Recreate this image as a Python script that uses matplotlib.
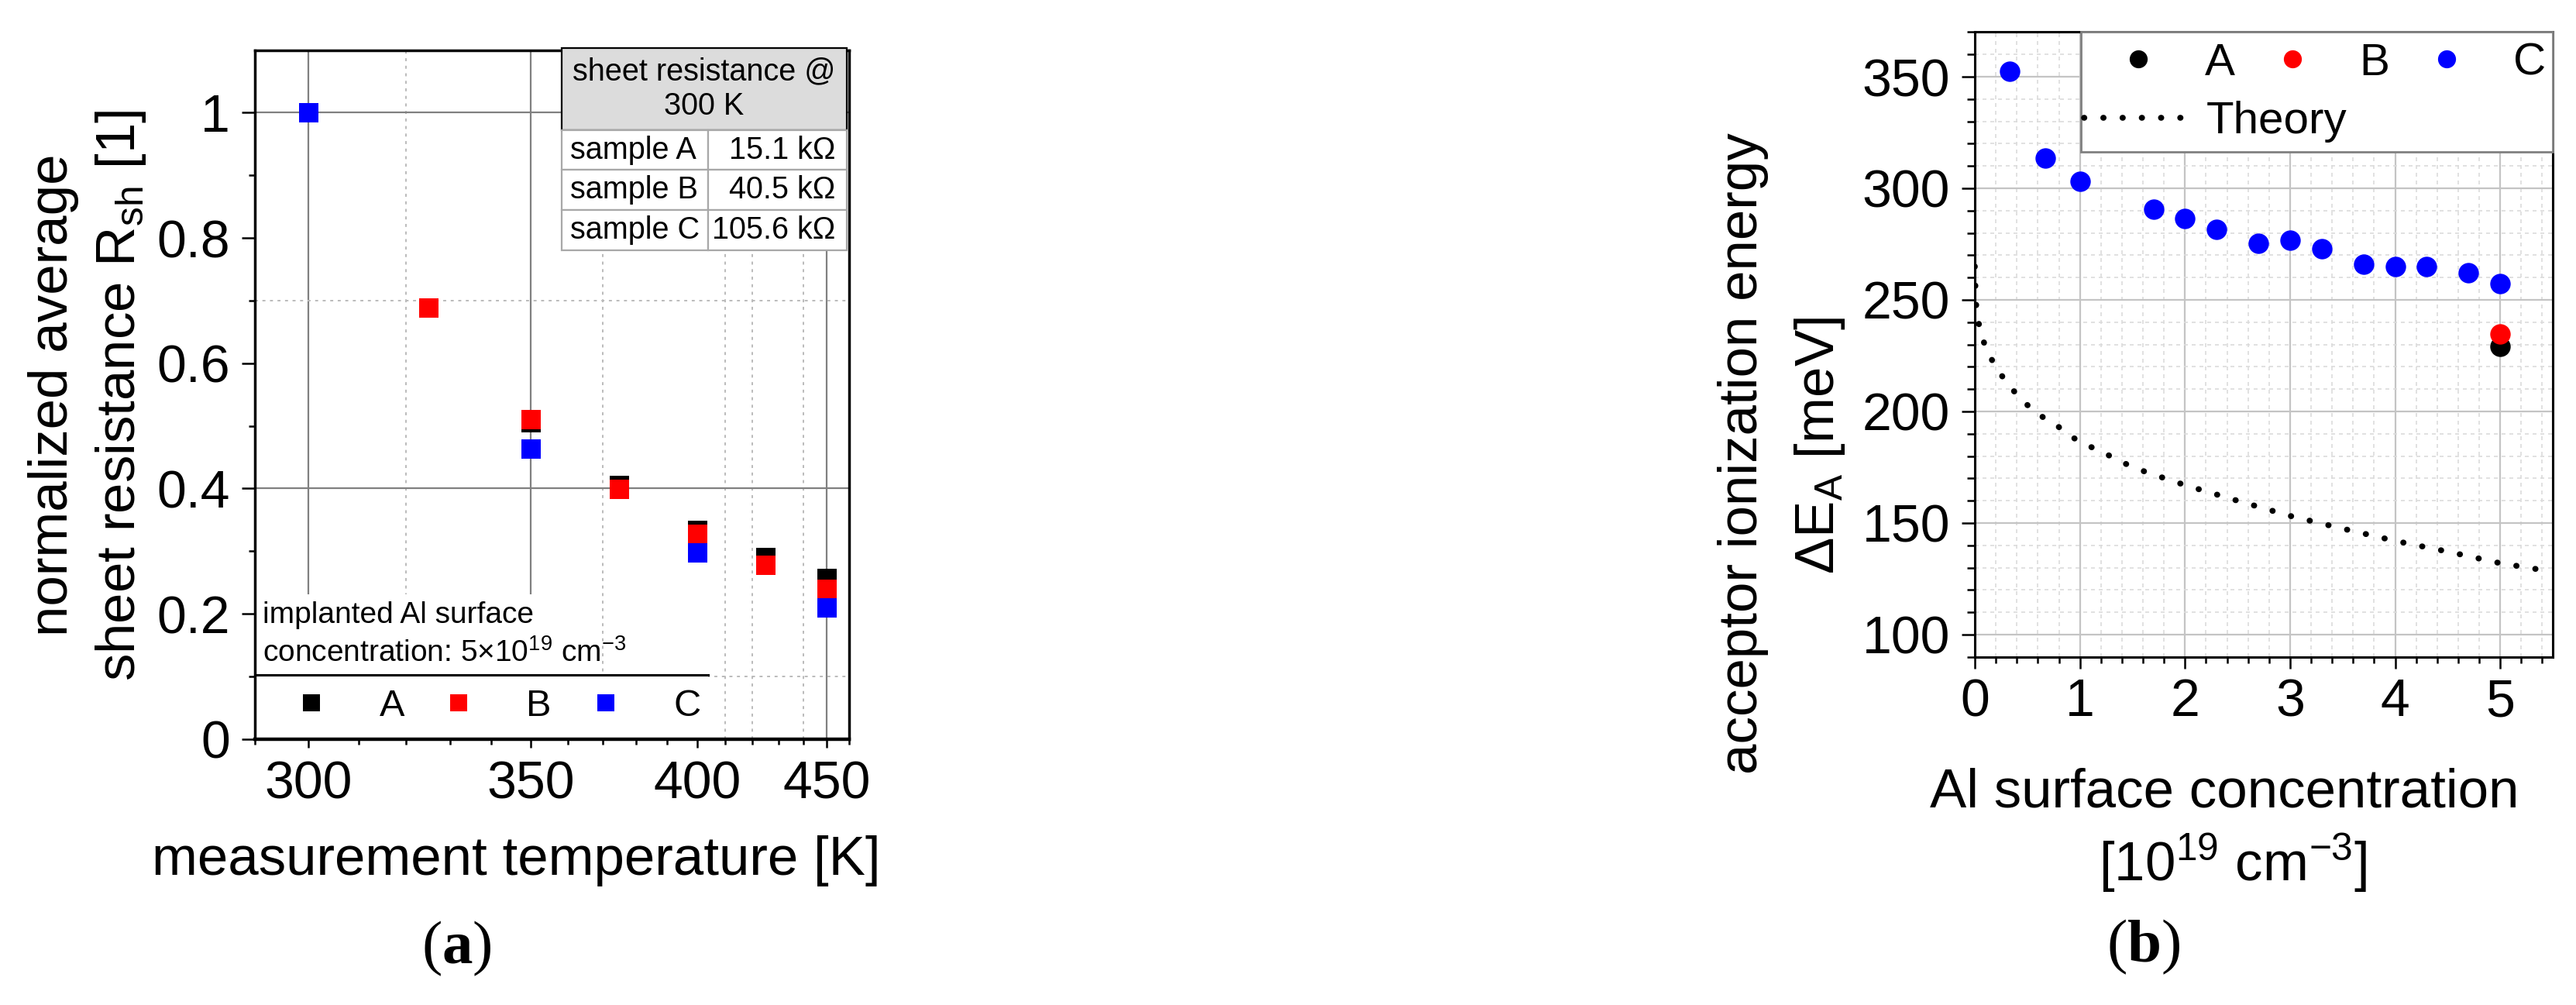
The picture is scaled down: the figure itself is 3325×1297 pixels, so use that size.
import numpy as np
import matplotlib
matplotlib.use("Agg")
import matplotlib.pyplot as plt
from matplotlib.patches import Rectangle
from matplotlib.lines import Line2D
from matplotlib.ticker import FixedLocator, NullFormatter

plt.rcParams['font.family'] = ['Liberation Sans', 'DejaVu Sans']
plt.rcParams['mathtext.fontset'] = 'custom'
plt.rcParams['mathtext.rm'] = 'Liberation Sans'
plt.rcParams['mathtext.it'] = 'Liberation Sans:italic'
plt.rcParams['mathtext.bf'] = 'Liberation Serif:bold'

# ---- (a) sheet resistance vs temperature ----
temps = [300, 325, 350, 375, 400, 425, 450]
rsh_A = [1.0, np.nan, 0.505, 0.405, 0.334, 0.290, 0.257]
rsh_B = [1.0, 0.689, 0.510, 0.399, 0.328, 0.278, 0.240]
rsh_C = [1.0, np.nan, 0.463, np.nan, 0.298, np.nan, 0.210]
temp_ticks = [300, 350, 400, 450]
temp_minor = [290, 310, 320, 330, 340, 360, 370, 380, 390, 410, 420, 430, 440, 460]
rsh_ticks = [0, 0.2, 0.4, 0.6, 0.8, 1.0]
rsh_ticklabels = ['0', '0.2', '0.4', '0.6', '0.8', '1']
table_samples = ['sample A', 'sample B', 'sample C']
table_values = ['15.1 kΩ', '40.5 kΩ', '105.6 kΩ']

# ---- (b) ionization energy vs Al concentration ----
conc_C = [0.33, 0.67, 1.0, 1.7, 2.0, 2.3, 2.7, 3.0, 3.3, 3.7, 4.0, 4.3, 4.7, 5.0]
ea_C = [352.5, 313.5, 303, 290.6, 286.3, 281.7, 275.3, 276.9, 272.8, 266, 264.8, 264.8, 262, 257.2]
conc_AB = [5.0]
ea_A = [229.3]
ea_B = [234.7]
theory_conc = [0.0, 0.01, 0.03, 0.06, 0.1, 0.18, 0.3, 0.43, 0.55, 0.68, 0.8, 0.93,
               1.05, 1.22, 1.37, 1.62, 2.0, 2.5, 3.0, 3.5, 4.0, 4.5, 5.0, 5.5]
theory_ea = [265, 249, 241, 235, 229, 221.5, 213, 206, 200.7, 196.4, 193, 188.4,
             185.2, 181.8, 177.8, 173, 167, 160, 153.2, 147.5, 142, 137.2, 132, 128.2]

W, H = 3325, 1297


def fx(px):
    return px / W


def fy(py):
    return 1 - py / H


def recip(t):
    t = np.asarray(t, dtype=float)
    with np.errstate(divide='ignore', invalid='ignore'):
        return -1.0 / t


fig = plt.figure(figsize=(W / 100, H / 100), dpi=100)

# ================= panel (a) =================
ax = fig.add_axes([fx(329), fy(953.7), (1096 - 329) / W, (953.7 - 64.5) / H])
ax.set_xscale('function', functions=(recip, recip))
ax.set_xlim(290, 460)
ax.set_ylim(0, 1.1)

# origin-like grid
for t in [300, 350, 450]:
    ax.axvline(t, color='#808080', lw=1.6, zorder=1)
for t in [320, 370, 410, 420, 440]:
    ax.axvline(t, color='#bbbbbb', lw=1.4, ls=(0, (2, 3)), zorder=1)
for v in [0.4, 1.0]:
    ax.axhline(v, color='#808080', lw=1.6, zorder=1)
for v in [0.1, 0.7]:
    ax.axhline(v, color='#bbbbbb', lw=1.4, ls=(0, (2, 3)), zorder=1)

pA, = ax.plot(temps, rsh_A, 's', color='black', ms=18, mew=0, zorder=3)
pB, = ax.plot(temps, rsh_B, 's', color='red', ms=18, mew=0, zorder=3)
pC, = ax.plot(temps, rsh_C, 's', color='blue', ms=18, mew=0, zorder=3)

ax.xaxis.set_major_locator(FixedLocator(temp_ticks))
ax.xaxis.set_minor_locator(FixedLocator(temp_minor))
ax.xaxis.set_minor_formatter(NullFormatter())
ax.set_xticklabels([str(t) for t in temp_ticks])
ax.set_yticks(rsh_ticks)
ax.set_yticklabels(rsh_ticklabels)
ax.yaxis.set_minor_locator(FixedLocator([0.1, 0.3, 0.5, 0.7, 0.9]))
ax.tick_params(axis='both', which='both', direction='out', labelsize=49, width=1.8)
ax.tick_params(axis='y', which='major', length=12, pad=11)
ax.tick_params(axis='y', which='minor', length=6)
ax.tick_params(axis='x', which='major', length=8, pad=11)
ax.tick_params(axis='x', which='minor', length=5)
for s in ax.spines.values():
    s.set_linewidth(2.5)
ax.spines['bottom'].set_linewidth(3.2)

# white boxes for the note and the legend
ax.add_patch(Rectangle((0, 0), 0.763, 0.093, transform=ax.transAxes,
                       facecolor='white', edgecolor='none', zorder=2.5))
ax.add_patch(Rectangle((0, 0.093), 0.575, 0.117, transform=ax.transAxes,
                       facecolor='white', edgecolor='none', zorder=2.5))
ax.add_line(Line2D([0, 0.763], [0.093, 0.093], transform=ax.transAxes,
                   color='black', lw=2.2, zorder=4))
ax.text(0.013, 0.1684, 'implanted Al surface', transform=ax.transAxes,
        fontsize=28, va='baseline', ha='left', zorder=4)
ax.text(0.013, 0.1126, 'concentration: 5×10$^{19}$ cm$^{-3}$', transform=ax.transAxes,
        fontsize=28, va='baseline', ha='left', zorder=4)

ax.legend([pA, pB, pC], ['A', 'B', 'C'], ncol=3, loc='center left',
          bbox_to_anchor=(0.0318, 0.0469), frameon=False, fontsize=35,
          handlelength=2, handletextpad=0.8, columnspacing=0.44,
          borderpad=0, borderaxespad=0, markerscale=0.9, numpoints=1)

# table with sheet resistance at 300 K
tx0 = (724.5 - 329) / 767
tw = (1092.7 - 724.5) / 767
c0w = (914.3 - 724.5) / 767
head = ax.table(cellText=[['sheet resistance @\n300 K']], cellLoc='center',
                bbox=[tx0, (953.7 - 167.7) / 889.2, tw, (167.7 - 61.7) / 889.2])
body0 = ax.table(cellText=[[s] for s in table_samples], cellLoc='left',
                 bbox=[tx0, (953.7 - 322.7) / 889.2, c0w, (322.7 - 167.7) / 889.2])
body1 = ax.table(cellText=[[v] for v in table_values], cellLoc='right',
                 bbox=[tx0 + c0w, (953.7 - 322.7) / 889.2, tw - c0w, (322.7 - 167.7) / 889.2])
for tb, pad in [(head, 0.1), (body0, 0.06), (body1, 0.08)]:
    tb.auto_set_font_size(False)
    tb.set_fontsize(28.5)
    tb.set_zorder(6)
    for cell in tb.get_celld().values():
        cell.PAD = pad
        cell.set_linewidth(1.6)
        cell.set_edgecolor('#a8a8a8')
for cell in head.get_celld().values():
    cell.set_facecolor('#dcdcdc')
    cell.set_edgecolor('black')

# ================= panel (b) =================
axb = fig.add_axes([fx(2549), fy(847.8), (3295 - 2549) / W, (847.8 - 41.4) / H])
axb.set_xlim(0, 5.5)
axb.set_ylim(90, 370)
axb.set_axisbelow(True)
axb.set_xticks([0, 1, 2, 3, 4, 5])
axb.xaxis.set_minor_locator(FixedLocator(np.arange(0, 5.51, 0.2)))
axb.set_yticks([100, 150, 200, 250, 300, 350])
axb.yaxis.set_minor_locator(FixedLocator(np.arange(90, 371, 10)))
axb.grid(which='major', color='#c4c4c4', lw=1.6)
axb.grid(which='minor', color='#dcdcdc', lw=1.2, ls=(0, (3, 3)))
axb.tick_params(axis='both', which='both', direction='out', labelsize=49, width=1.8)
axb.tick_params(axis='y', which='major', length=12, pad=11)
axb.tick_params(axis='y', which='minor', length=7)
axb.tick_params(axis='x', which='major', length=11, pad=8)
axb.tick_params(axis='x', which='minor', length=6)
for s in axb.spines.values():
    s.set_linewidth(2.2)

hT, = axb.plot(theory_conc, theory_ea, color='black', lw=5.5, ls=(0, (0.05, 3.2)),
               dash_capstyle='round', zorder=2)
hA, = axb.plot(conc_AB, ea_A, 'o', color='black', ms=19, mew=0, zorder=3)
hB, = axb.plot(conc_AB, ea_B, 'o', color='red', ms=19, mew=0, zorder=3)
hC, = axb.plot(conc_C, ea_C, 'o', color='blue', ms=19, mew=0, zorder=3)

axb.add_patch(Rectangle((0.1831, 0.8083), 0.8169, 0.1917, transform=axb.transAxes,
                        facecolor='white', edgecolor='#808080', lw=2, zorder=4, clip_on=False))
leg1 = axb.legend([hA, hB, hC], ['A', 'B', 'C'], ncol=3, loc='center left',
                  bbox_to_anchor=(0.2204, 0.9498), frameon=False, fontsize=42,
                  handlelength=1.6, handletextpad=0.675, columnspacing=0.47,
                  borderpad=0, borderaxespad=0, markerscale=0.88, numpoints=1)
axb.add_artist(leg1)
axb.legend([hT], ['Theory'], loc='center left', bbox_to_anchor=(0.1887, 0.8566),
           frameon=False, fontsize=42, handlelength=2.3, handletextpad=0.4,
           borderpad=0, borderaxespad=0)

# ================= labels and captions =================
fig.text(fx(87), fy(510), 'normalized average', rotation=90, rotation_mode='anchor',
         ha='center', va='baseline', fontsize=51)
fig.text(fx(174), fy(510), r'sheet resistance R$_{\rm sh}$ [1]', rotation=90,
         rotation_mode='anchor', ha='center', va='baseline', fontsize=51)
fig.text(fx(666.7), fy(1129), 'measurement temperature [K]', ha='center',
         va='baseline', fontsize=51)

fig.text(fx(2268), fy(585), 'acceptor ionization energy', rotation=90,
         rotation_mode='anchor', ha='center', va='baseline', fontsize=51)
fig.text(fx(2367), fy(575), r'ΔE$_{\rm A}$ [meV]', rotation=90,
         rotation_mode='anchor', ha='center', va='baseline', fontsize=51)
fig.text(fx(2871.7), fy(1042), 'Al surface concentration', ha='center',
         va='baseline', fontsize=51)
fig.text(fx(2881.6), fy(1137), '[10$^{19}$ cm$^{-3}$]', ha='center',
         va='baseline', fontsize=51)

fig.text(fx(589), fy(1224), r'($\mathbf{a}$)', family='Liberation Serif',
         fontsize=57, ha='center', va='center')
fig.text(fx(2767), fy(1222), r'($\mathbf{b}$)', family='Liberation Serif',
         fontsize=57, ha='center', va='center')

fig.savefig('out.png', dpi=100)
